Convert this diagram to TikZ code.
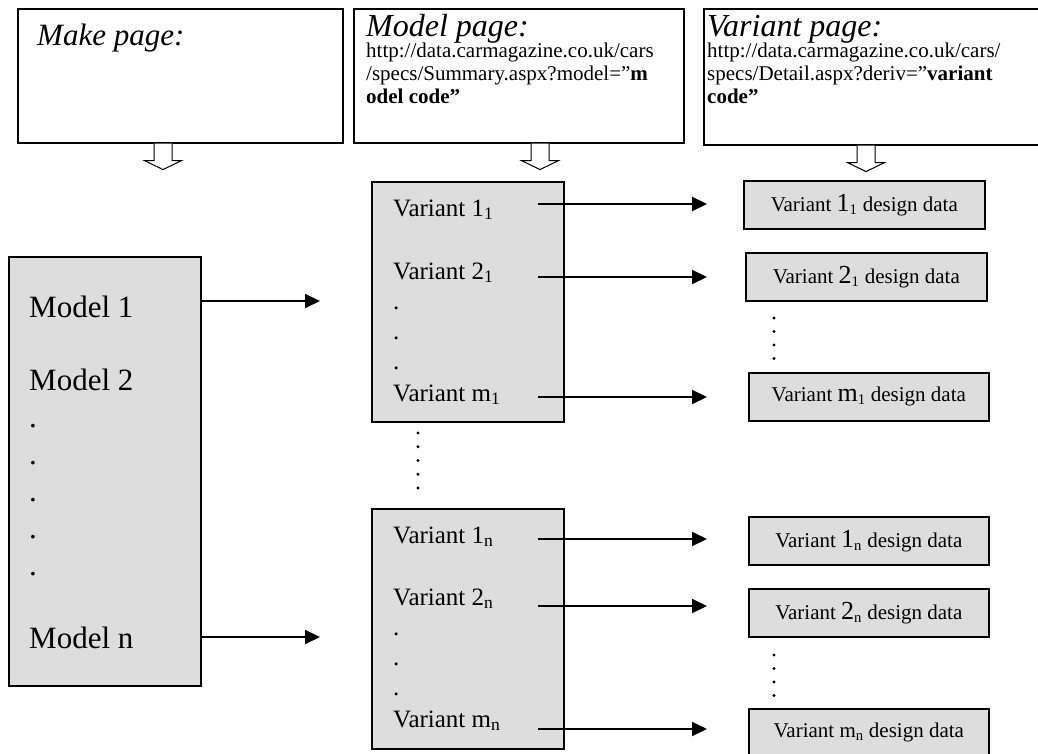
\documentclass[tikz,border=0pt]{standalone}
\usepackage{fontspec}
\setmainfont{Liberation Serif}
\usetikzlibrary{arrows.meta}
\definecolor{boxgray}{RGB}{221,221,221}
\begin{document}
\begin{tikzpicture}[x=1pt,y=-1pt,
  frame/.style={draw=black, line width=1.6pt, inner sep=0pt, anchor=north west},
  pagebox/.style={frame, fill=white},
  listbox/.style={frame, fill=boxgray},
  databox/.style={frame, fill=boxgray, font=\fontsize{21}{24}\selectfont},
  title/.style={anchor=base west, inner sep=0pt, font=\fontsize{32}{36}\selectfont\itshape},
  url/.style={anchor=base west, inner sep=0pt, font=\fontsize{21}{24}\selectfont},
  modeltext/.style={anchor=base west, inner sep=0pt, font=\fontsize{31}{36}\selectfont},
  varianttext/.style={anchor=base west, inner sep=0pt, font=\fontsize{25}{30}\selectfont},
  link/.style={line width=2pt, -{Triangle[length=15pt,width=14pt]}},
  dot/.style={fill=black, circle, inner sep=0pt, minimum size=3.2pt},
  hollowdown/.pic={\draw[line width=1pt, fill=white]
      (-9,0) -- (-9,17) -- (-18.5,17) -- (0,26) -- (18.5,17) -- (9,17) -- (9,0);}
]
\newcommand{\bigfig}[1]{{\fontsize{26}{30}\selectfont #1}}
\useasboundingbox (0,0) rectangle (1038,754);

% ---- page headers ----
\node[pagebox, minimum width=325pt, minimum height=134pt] (make) at (17,8) {};
\node[pagebox, minimum width=330pt, minimum height=134pt] (model) at (353,8) {};
\node[pagebox, minimum width=345pt, minimum height=136pt] (variant) at (703,8) {};

\node[title, font=\fontsize{31}{36}\selectfont\itshape] (maketitle) at (37,46) {Make page:};
\node[title] (modeltitle) at (366,37) {Model page:};
\node[url] (modelurl1) at (366,58) {http://data.carmagazine.co.uk/cars};
\node[url] (modelurl2) at (366,81) {/specs/Summary.aspx?model=”\textbf{m}};
\node[url] (modelurl3) at (366,104) {\textbf{odel code”}};
\node[title] (varianttitle) at (707,37) {Variant page:};
\node[url] (varianturl1) at (707,58) {http://data.carmagazine.co.uk/cars/};
\node[url] (varianturl2) at (707,81) {specs/Detail.aspx?deriv=”\textbf{variant}};
\node[url] (varianturl3) at (707,104) {\textbf{code”}};

\pic at ([xshift=146pt]make.south west) {hollowdown};
\pic at ([xshift=187pt]model.south west) {hollowdown};
\pic at ([xshift=163pt]variant.south west) {hollowdown};

% ---- model list ----
\node[listbox, minimum width=192pt, minimum height=429pt] (models) at (8,256) {};
\node[modeltext] (model1) at (29,317) {Model 1};
\node[modeltext] (model2) at (29,390) {Model 2};
\foreach \y [count=\i] in {427,464,501,538,575}
  \node[modeltext] (mdot\i) at (29,\y) {.};
\node[modeltext] (modeln) at (29,648) {Model n};

% ---- variant lists ----
\node[listbox, minimum width=192pt, minimum height=240pt] (vlist1) at (371,181) {};
\node[varianttext] (v11) at (393,216) {Variant 1\textsubscript{1}};
\node[varianttext] (v21) at (393,279) {Variant 2\textsubscript{1}};
\foreach \y [count=\i] in {309,339,369}
  \node[varianttext] (vdota\i) at (393,\y) {.};
\node[varianttext] (vm1) at (393,401) {Variant m\textsubscript{1}};

\node[listbox, minimum width=192pt, minimum height=240pt] (vlistn) at (371,508) {};
\node[varianttext] (v1n) at (393,543) {Variant 1\textsubscript{n}};
\node[varianttext] (v2n) at (393,605) {Variant 2\textsubscript{n}};
\foreach \y [count=\i] in {635,665,695}
  \node[varianttext] (vdotb\i) at (393,\y) {.};
\node[varianttext] (vmn) at (393,727) {Variant m\textsubscript{n}};

\foreach \y [count=\i] in {433,446.75,460.5,474.25,488}
  \node[dot] (gapdot\i) at (418,\y) {};

% ---- design data boxes ----
\node[databox, minimum width=241pt, minimum height=48pt] (d11) at (743,180)
  {Variant \bigfig{1}\textsubscript{1} design data};
\node[databox, minimum width=241pt, minimum height=48pt] (d21) at (745,252)
  {Variant \bigfig{2}\textsubscript{1} design data};
\node[databox, minimum width=240pt, minimum height=48pt] (dm1) at (748,372)
  {Variant \bigfig{m}\textsubscript{1} design data};
\node[databox, minimum width=240pt, minimum height=48pt] (d1n) at (748,516)
  {Variant \bigfig{1}\textsubscript{n} design data};
\node[databox, minimum width=240pt, minimum height=48pt] (d2n) at (748,588)
  {Variant \bigfig{2}\textsubscript{n} design data};
\node[databox, minimum width=240pt, minimum height=48pt] (dmn) at (748,708)
  {Variant m\textsubscript{n} design data};

\foreach \y [count=\i] in {318,331.5,345,358.5}
  \node[dot] (ddota\i) at (774,\y) {};
\foreach \y [count=\i] in {655,668.5,682,695.5}
  \node[dot] (ddotb\i) at (774,\y) {};

% ---- connectors ----
\coordinate (m1end) at (320,301);
\coordinate (mnend) at (320,637);
\draw[link] (models.east |- m1end) -- (m1end);
\draw[link] (models.east |- mnend) -- (mnend);

\foreach \name/\y in {a11/204, a21/277, am1/397, a1n/539, a2n/606, amn/729}{
  \coordinate (\name s) at (538,\y);
  \coordinate (\name e) at (707,\y);
  \draw[link] (\name s) -- (\name e);
}
\end{tikzpicture}
\end{document}
